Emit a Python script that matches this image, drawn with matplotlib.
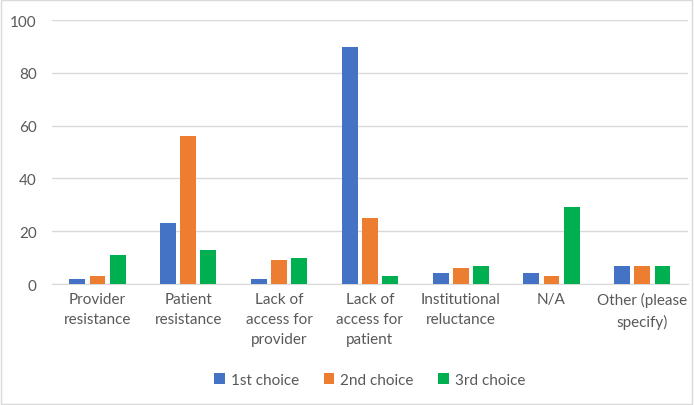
import numpy as np
import matplotlib.pyplot as plt
from matplotlib.patches import Rectangle

categories = ["Provider\nresistance", "Patient\nresistance", "Lack of\naccess for\nprovider",
              "Lack of\naccess for\npatient", "Institutional\nreluctance", "N/A", "Other (please\nspecify)"]
first = [2, 23, 2, 90, 4, 4, 7]
second = [3, 56, 9, 25, 6, 3, 7]
third = [11, 13, 10, 3, 7, 29, 7]
series = ["1st choice", "2nd choice", "3rd choice"]
colors = ["#4472C4", "#ED7D31", "#00B050"]

plt.rcParams['font.family'] = ['Lato', 'DejaVu Sans']
fig = plt.figure(figsize=(6.94, 4.06), dpi=100)
ax = fig.add_axes([0.075, 0.298, 0.916, 0.65])

x = np.arange(len(categories))
w = 1 / 5.73
step = 1.27 * w
for i, (vals, name, c) in enumerate(zip([first, second, third], series, colors)):
    ax.bar(x + (i - 1) * step, vals, width=w, color=c, label=name, zorder=3)

ax.set_xlim(-0.5, len(categories) - 0.5)
ax.set_ylim(0, 100)
ax.set_yticks(range(0, 101, 20))
ax.grid(axis='y', color='#D9D9D9', linewidth=1, zorder=0)
for s in ['top', 'right', 'left']:
    ax.spines[s].set_visible(False)
ax.spines['bottom'].set_color('#D9D9D9')
ax.tick_params(length=0, colors='#595959', labelsize=11)
ax.tick_params(axis='y', pad=11)
ax.set_xticks(x)
ax.set_xticklabels(categories, va='top', linespacing=1.55)
ax.tick_params(axis='x', pad=6)

ax.legend(loc='upper center', bbox_to_anchor=(0.5, -0.285), ncol=3, frameon=False,
          handlelength=0.7, handleheight=0.7, handletextpad=0.4, columnspacing=1.6,
          labelcolor='#595959', fontsize=11)

fig.patches.append(Rectangle((0.002, 0.003), 0.995, 0.994, transform=fig.transFigure,
                             fill=False, edgecolor='#D9D9D9', linewidth=1))
fig.savefig("out.png", dpi=100)
